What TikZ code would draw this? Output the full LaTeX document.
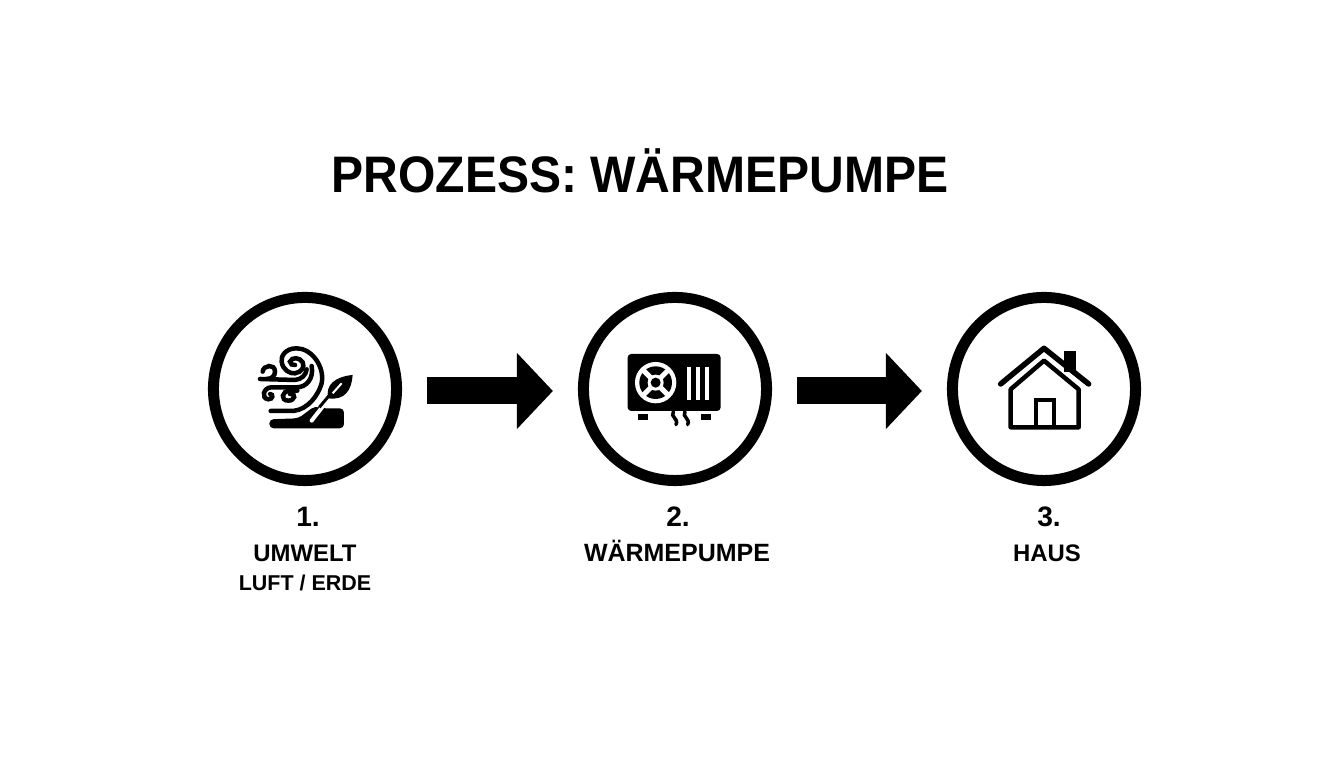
\documentclass[tikz,border=0pt]{standalone}
\usepackage{fontspec}
\setmainfont{Liberation Sans}
\usetikzlibrary{arrows.meta}
\tikzset{
    stepcircle/.style={draw=black, circle, line width=0.11cm, minimum size=1.83cm, inner sep=0pt},
    flowarrow/.style={-{Triangle[length=0.36cm, width=0.74cm]}, line width=0.27cm, shorten <=0.25cm, shorten >=0.25cm},
    titletext/.style={font=\bfseries\fontsize{14.6}{16}\selectfont\addfontfeatures{FakeStretch=0.936}},
    numtext/.style={font=\bfseries\fontsize{8}{9}\selectfont},
    nametext/.style={font=\bfseries\fontsize{6.8}{8}\selectfont},
    subtext/.style={font=\bfseries\fontsize{6.1}{7}\selectfont},
    windline/.style={line width=0.045cm, line cap=round},
    heatline/.style={line width=0.035cm, line cap=round},
}
\begin{document}
\begin{tikzpicture}[x=0.01cm, y=-0.01cm]
    \useasboundingbox (0,0) rectangle (1344,768);

    \node[titletext] (title) at (640,171) {PROZESS: WÄRMEPUMPE};

    \node[stepcircle] (umwelt) at (305,389) {};
    \node[stepcircle] (pumpe) at (675,389) {};
    \node[stepcircle] (haus) at (1044,389) {};

    \draw[flowarrow] ([yshift=-0.02cm]umwelt.east) -- ([yshift=-0.02cm]pumpe.west);
    \draw[flowarrow] ([yshift=-0.02cm]pumpe.east) -- ([yshift=-0.02cm]haus.west);

    % wind and leaf
    \begin{scope}[shift={(240,330)}, scale=0.3333]
        \draw[windline] (92,243) -- (160,243) .. controls (205,238) and (235,195) .. (245,160)
            .. controls (255,110) and (215,55) .. (170,55)
            .. controls (135,55) and (122,80) .. (125,95)
            .. controls (128,120) and (150,132) .. (165,130)
            .. controls (185,127) and (195,110) .. (188,97)
            .. controls (180,82) and (155,80) .. (150,95)
            .. controls (150,103) and (158,106) .. (165,105);
        \draw[windline] (60,147) -- (165,150) .. controls (185,148) and (198,135) .. (200,118);
        \draw[windline] (68,125) .. controls (70,105) and (105,100) .. (105,125)
            .. controls (105,138) and (95,147) .. (80,147);
        \draw[windline] (215,108) .. controls (222,145) and (200,172) .. (170,172) -- (95,172)
            .. controls (70,172) and (62,205) .. (85,208)
            .. controls (100,208) and (100,192) .. (90,192);
        \draw[windline] (172,182) -- (150,182) .. controls (125,182) and (120,212) .. (145,212)
            .. controls (165,212) and (170,190) .. (150,192);
        \fill[black, rounded corners=1.2pt] (88,268) -- (175,265) -- (225,228) -- (245,235) -- (312,235) -- (312,295) -- (88,295) -- cycle;
        \draw[white, line width=0.04cm, line cap=round] (215,272) -- (262,212);
        \draw[line width=0.03cm] (238,232) -- (268,196);
        \fill[black] (265,205) .. controls (255,165) and (285,140) .. (338,135)
            .. controls (335,180) and (315,212) .. (265,205) -- cycle;
        \draw[white, line width=0.02cm] (278,190) -- (305,160);
    \end{scope}

    % outdoor unit
    \begin{scope}[shift={(610,330)}, scale=0.3333]
        \fill[black, rounded corners=1pt] (53,72) rectangle (332,243);
        \fill[white] (137,158) circle[radius=62];
        \fill[black] (137,158) circle[radius=49];
        \foreach \ang in {45,135,225,315}
            \draw[white, line width=0.05cm] (137,158) -- ++(\ang:55);
        \fill[white] (137,158) circle[radius=24];
        \fill[black] (137,158) circle[radius=15];
        \foreach \px in {237,264,291}
            \fill[white] (\px-5,110) rectangle (\px+5,210);
        \fill[black] (83,253) rectangle (113,270);
        \fill[black] (274,253) rectangle (304,270);
        \foreach \px in {195,230}
            \draw[heatline] (\px-5,245) .. controls (\px-15,262) and (\px+12,265) .. (\px+3,284);
    \end{scope}

    % house
    \begin{scope}[shift={(980,330)}, scale=0.3333]
        \fill[black] (252,64) rectangle (288,125);
        \draw[white, line width=0.085cm, line join=miter] (92,180) -- (192,92) -- (296,180);
        \draw[black, line width=0.055cm, line cap=round, line join=round] (62,162) -- (192,55) -- (326,162);
        \draw[black, line width=0.045cm, line join=round] (92,178) -- (92,292) -- (296,292) -- (296,178) -- (192,92) -- cycle;
        \draw[black, line width=0.045cm] (168,292) -- (168,210) -- (222,210) -- (222,292);
    \end{scope}

    \node[numtext] (numa) at (308,517) {1.};
    \node[nametext] (namea) at (305,553) {UMWELT};
    \node[subtext] (suba) at (305,583) {LUFT / ERDE};
    \node[numtext] (numb) at (678,517) {2.};
    \node[nametext] (nameb) at (677,551) {\fontsize{7.1}{8}\selectfont WÄRMEPUMPE};
    \node[numtext] (numc) at (1049,517) {3.};
    \node[nametext] (namec) at (1047,553) {HAUS};
\end{tikzpicture}
\end{document}
